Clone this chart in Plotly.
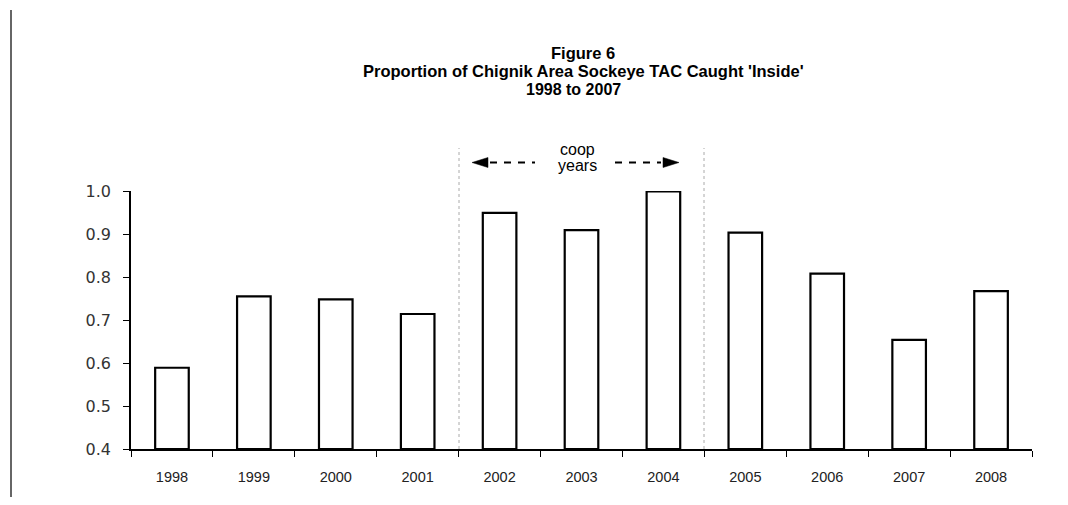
import plotly.graph_objects as go

years = ["1998", "1999", "2000", "2001", "2002", "2003", "2004", "2005", "2006", "2007", "2008"]
proportion = [0.589, 0.755, 0.748, 0.714, 0.949, 0.909, 0.999, 0.903, 0.808, 0.654, 0.767]
y_ticks = [0.4, 0.5, 0.6, 0.7, 0.8, 0.9, 1.0]
y_tick_text = ["0.4", "0.5", "0.6", "0.7", "0.8", "0.9", "1.0"]

OFF = 8
W, H = 1068 - OFF, 505 - OFF
PL, PR, PT, PB = 131, 1032, 191, 449
L, R, T, B = PL - OFF, W - (PR - OFF), PT - OFF, H - (PB - OFF)
pw = PR - PL
ph = PB - PT

def px(x):
    return (x - PL) / pw

def py(y):
    return (PB - y) / ph

fig = go.Figure()
fig.add_trace(go.Bar(
    x=years, y=[v - 0.4 for v in proportion], base=0.4,
    marker=dict(color="white", line=dict(color="black", width=2.2)),
    hoverinfo="skip",
))

shapes = []
for xb in [px(459), px(704)]:
    shapes.append(dict(type="line", xref="paper", yref="paper", x0=xb, x1=xb,
                       y0=0, y1=py(148), line=dict(color="#aaaaaa", width=1, dash="dot")))
ya = py(162.5)
shapes.append(dict(type="line", xref="paper", yref="paper", x0=px(490), x1=px(535),
                   y0=ya, y1=ya, line=dict(color="black", width=2, dash="7px,7px")))
shapes.append(dict(type="line", xref="paper", yref="paper", x0=px(615), x1=px(661),
                   y0=ya, y1=ya, line=dict(color="black", width=2, dash="7px,7px")))
shapes.append(dict(type="path", xref="paper", yref="paper",
                   path=f"M {px(472)} {ya} L {px(488)} {py(157.5)} L {px(488)} {py(167.5)} Z",
                   fillcolor="black", line=dict(color="black", width=0.5)))
shapes.append(dict(type="path", xref="paper", yref="paper",
                   path=f"M {px(679)} {ya} L {px(663)} {py(157.5)} L {px(663)} {py(167.5)} Z",
                   fillcolor="black", line=dict(color="black", width=0.5)))
shapes.append(dict(type="line", xref="paper", yref="paper", x0=px(11), x1=px(11),
                   y0=py(497), y1=py(10), line=dict(color="#333333", width=1.5)))

FONT = "Liberation Sans, Arial"
annotations = [
    dict(text="<b>Figure 6</b>", x=px(583), y=py(53), xref="paper", yref="paper",
         showarrow=False, font=dict(size=16.5, color="black", family=FONT),
         xanchor="center", yanchor="middle"),
    dict(text="<b>Proportion of Chignik Area Sockeye TAC Caught 'Inside'</b>", x=px(583), y=py(71),
         xref="paper", yref="paper", showarrow=False,
         font=dict(size=16.5, color="black", family=FONT),
         xanchor="center", yanchor="middle"),
    dict(text="<b>1998 to 2007</b>", x=px(573), y=py(90), xref="paper", yref="paper",
         showarrow=False, font=dict(size=16, color="black", family=FONT),
         xanchor="center", yanchor="middle"),
    dict(text="coop", x=px(577), y=py(149), xref="paper", yref="paper",
         showarrow=False, font=dict(size=16, color="black", family=FONT),
         xanchor="center", yanchor="middle"),
    dict(text="years", x=px(577), y=py(165), xref="paper", yref="paper",
         showarrow=False, font=dict(size=16, color="black", family=FONT),
         xanchor="center", yanchor="middle"),
]

fig.update_layout(
    width=W, height=H,
    margin=dict(l=L, r=R, t=T, b=B, pad=0),
    paper_bgcolor="white", plot_bgcolor="white",
    bargap=0.59, showlegend=False,
    shapes=shapes, annotations=annotations,
    font=dict(family=FONT, color="black"),
)
fig.update_xaxes(
    type="category", showline=True, linecolor="black", linewidth=1.5,
    ticks="outside", tickson="boundaries", ticklen=6, tickcolor="black", tickwidth=1,
    tickfont=dict(size=14.5, color="#222222", family=FONT), ticklabelstandoff=14,
    showgrid=False, zeroline=False,
)
fig.update_yaxes(
    range=[0.4, 1.0], tickvals=y_ticks, ticktext=y_tick_text,
    showline=True, linecolor="black", linewidth=1.5,
    ticks="outside", ticklen=6, tickcolor="black", tickwidth=1,
    tickfont=dict(size=16, color="#333333", family="DejaVu Sans"), ticklabelstandoff=9,
    showgrid=False, zeroline=False,
)

fig.write_html("out.html")
